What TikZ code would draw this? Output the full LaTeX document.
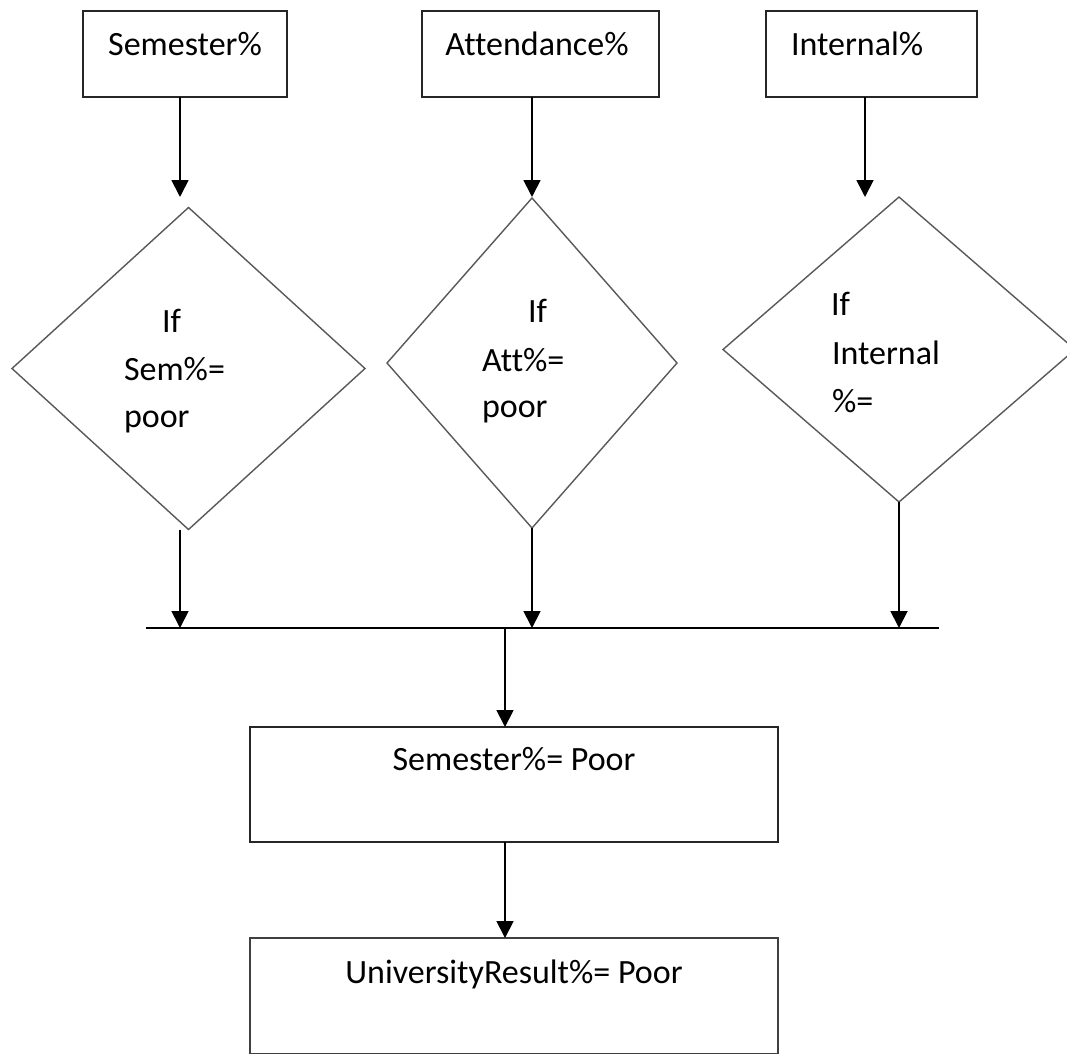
\documentclass[tikz,border=0pt]{standalone}
\usepackage{fontspec}
\setmainfont{Carlito}[Ligatures=NoCommon]
\usetikzlibrary{shapes.geometric,arrows.meta}
\begin{document}
\begin{tikzpicture}[x=1pt,y=-1pt,
  box/.style={draw=black!85, line width=2pt, inner sep=0pt, outer sep=0pt},
  dia/.style={diamond, draw=black!65, line width=1.4pt, inner sep=0pt, outer sep=0pt},
  txt/.style={inner sep=0pt, outer sep=0pt, font=\fontsize{34}{47}\selectfont},
  arr/.style={line width=1.8pt, -{Triangle[width=17pt,length=17pt]}},
  ln/.style={line width=2pt}]
\useasboundingbox (0,0) rectangle (1067,1053);
\fill[white] (0,0) rectangle (1067,1053);

% top boxes
\node[box, minimum width=204pt, minimum height=86pt] (b1) at (185,54) {};
\node[box, minimum width=237pt, minimum height=86pt] (b2) at (540.5,54) {};
\node[box, minimum width=211pt, minimum height=86pt] (b3) at (871.5,54) {};
\node[txt, anchor=base] (t1) at (185,55) {Semester\%};
\node[txt, anchor=base] (t2) at (537,55) {Attendance\%};
\node[txt, anchor=base west] (t3) at (791,55) {Internal\%};

% diamonds
\node[dia, minimum width=353pt, minimum height=322pt] (d1) at (188.5,368.5) {};
\node[dia, minimum width=290pt, minimum height=330pt] (d2) at (532,363) {};
\node[dia, minimum width=352pt, minimum height=305pt] (d3) at (899,349.5) {};

\node[txt, anchor=base west] (d1a) at (162,332) {If};
\node[txt, anchor=base west] (d1b) at (124,380) {Sem\%=};
\node[txt, anchor=base west] (d1c) at (124,427) {poor};
\node[txt, anchor=base west] (d2a) at (528,322) {If};
\node[txt, anchor=base west] (d2b) at (482,371) {Att\%=};
\node[txt, anchor=base west] (d2c) at (482,417) {poor};
\node[txt, anchor=base west] (d3a) at (831,315) {If};
\node[txt, anchor=base west] (d3b) at (832,364) {Internal};
\node[txt, anchor=base west] (d3c) at (832,412) {\%=};

% lower boxes
\node[box, minimum width=528pt, minimum height=115pt] (b4) at (514,784.5) {};
\node[box, draw=black!75, minimum width=528pt, minimum height=115.5pt] (b5) at (514,995.75) {};
\node[txt, anchor=base] (t4) at (514,770) {Semester\%= Poor};
\node[txt, anchor=base] (t5) at (514,983) {UniversityResult\%= Poor};

% arrows from top boxes to diamonds
\coordinate (p1) at (180,197);
\coordinate (p2) at (532,197);
\coordinate (p3) at (865,197);
\draw[arr] (b1.south -| p1) -- (p1);
\draw[arr] (b2.south -| p2) -- (p2);
\draw[arr] (b3.south -| p3) -- (p3);

% arrows from diamonds to bar
\coordinate (q1) at (180,628);
\coordinate (q2) at (532,628);
\coordinate (q3) at (899,628);
\draw[arr] (d1.south -| q1) -- (q1);
\draw[arr] (d2.south) -- (q2);
\draw[arr] (d3.south) -- (q3);

% bar
\coordinate (hl) at (146,628);
\coordinate (hr) at (939,628);
\draw[ln] (hl) -- (hr);

% arrows down
\coordinate (m) at (505,628);
\draw[arr] (m) -- (m |- b4.north);
\draw[arr] (b4.south -| m) -- (m |- b5.north);
\end{tikzpicture}
\end{document}
